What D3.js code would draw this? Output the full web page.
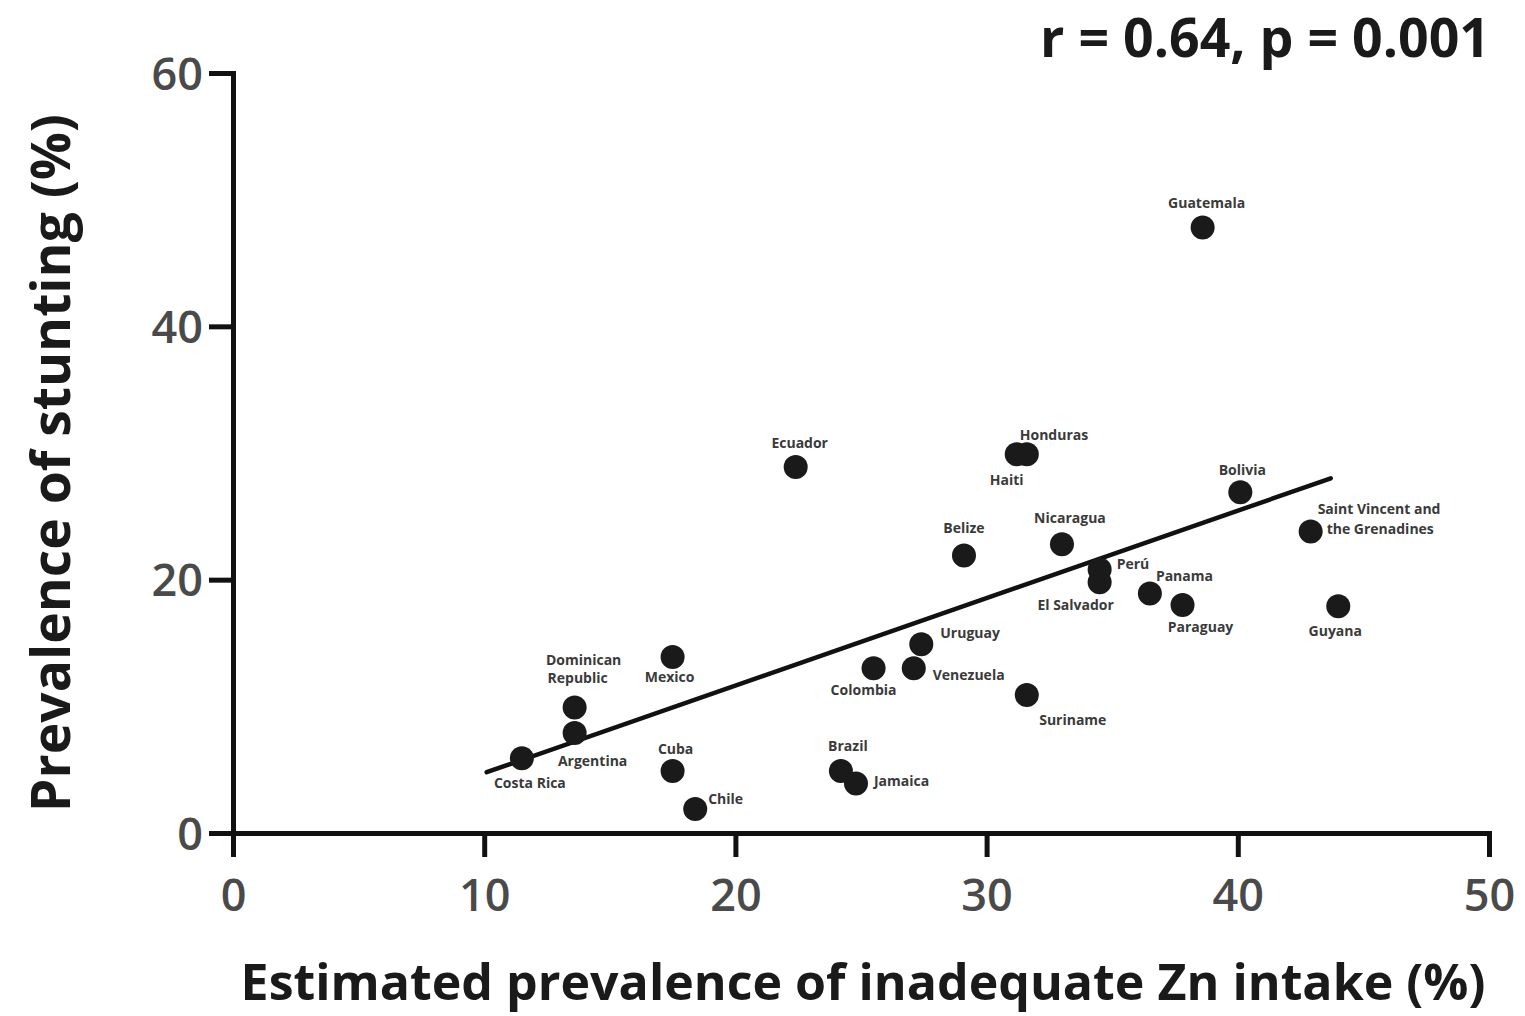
<!DOCTYPE html>
<html><head><meta charset="utf-8">
<script src="https://cdn.jsdelivr.net/npm/d3@7"></script>
<style>
html,body{margin:0;padding:0;background:#fff;}
svg{display:block;font-family:"Open Sans",sans-serif;}
</style></head>
<body><svg id="chart" width="1525" height="1016"></svg>
<script>
// ---- data ----
const countries = ["Costa Rica","Argentina","Dominican Republic","Mexico","Cuba","Chile","Ecuador","Brazil","Jamaica","Colombia","Venezuela","Uruguay","Belize","Haiti","Honduras","Suriname","Nicaragua","Perú","El Salvador","Panama","Paraguay","Guatemala","Bolivia","Saint Vincent and the Grenadines","Guyana"];
const znInadequacy = [11.5,13.6,13.6,17.5,17.5,18.4,22.4,24.2,24.8,25.5,27.1,27.4,29.1,31.2,31.6,31.6,33.0,34.5,34.5,36.5,37.8,38.6,40.1,42.9,44.0];
const stunting =     [5.9, 7.9, 9.9, 13.9,4.9, 1.9, 28.9,4.9, 3.9, 13.0,13.0,14.9,21.9,29.9,29.9,10.9,22.8,20.8,19.8,18.9,18.0,47.8,26.9,23.8,17.9];
const fitX = [10.1, 43.7];
const fitY = [4.8, 28.0];
const xTicks = [0,10,20,30,40,50];
const yTicks = [0,20,40,60];
const statText = "r = 0.64, p = 0.001";
const xTitle = "Estimated prevalence of inadequate Zn intake (%)";
const yTitle = "Prevalence of stunting (%)";

// ---- label layout (offsets from point, px) ----
const labelLayout = {
  "Costa Rica":[{t:"Costa Rica",dx:8,dy:30,a:"middle"}],
  "Argentina":[{t:"Argentina",dx:18,dy:33,a:"middle"}],
  "Dominican Republic":[{t:"Dominican",dx:9,dy:-43,a:"middle"},{t:"Republic",dx:3,dy:-25,a:"middle"}],
  "Mexico":[{t:"Mexico",dx:-3,dy:25,a:"middle"}],
  "Cuba":[{t:"Cuba",dx:3,dy:-17,a:"middle"}],
  "Chile":[{t:"Chile",dx:13,dy:-5,a:"start"}],
  "Ecuador":[{t:"Ecuador",dx:4,dy:-19,a:"middle"}],
  "Brazil":[{t:"Brazil",dx:7,dy:-20,a:"middle"}],
  "Jamaica":[{t:"Jamaica",dx:18,dy:2,a:"start"}],
  "Colombia":[{t:"Colombia",dx:-10,dy:27,a:"middle"}],
  "Venezuela":[{t:"Venezuela",dx:19,dy:12,a:"start"}],
  "Uruguay":[{t:"Uruguay",dx:19,dy:-6,a:"start"}],
  "Belize":[{t:"Belize",dx:0,dy:-23,a:"middle"}],
  "Haiti":[{t:"Haiti",dx:-10,dy:31,a:"middle"}],
  "Honduras":[{t:"Honduras",dx:-7,dy:-14,a:"start"}],
  "Suriname":[{t:"Suriname",dx:46,dy:30,a:"middle"}],
  "Nicaragua":[{t:"Nicaragua",dx:8,dy:-21,a:"middle"}],
  "Perú":[{t:"Perú",dx:17,dy:-1,a:"start"}],
  "El Salvador":[{t:"El Salvador",dx:-24,dy:28,a:"middle"}],
  "Panama":[{t:"Panama",dx:6,dy:-13,a:"start"}],
  "Paraguay":[{t:"Paraguay",dx:18,dy:27,a:"middle"}],
  "Guatemala":[{t:"Guatemala",dx:4,dy:-20,a:"middle"}],
  "Bolivia":[{t:"Bolivia",dx:2,dy:-17,a:"middle"}],
  "Saint Vincent and the Grenadines":[{t:"Saint Vincent and",dx:7,dy:-18,a:"start"},{t:"the Grenadines",dx:16,dy:2,a:"start"}],
  "Guyana":[{t:"Guyana",dx:-3,dy:30,a:"middle"}]
};

const svg = d3.select("#chart");
const x = d3.scaleLinear().domain([0,50]).range([233,1489]);
const y = d3.scaleLinear().domain([0,60]).range([833,73]);

// axes
const xAxis = svg.append("g").attr("transform","translate(0,833)")
  .call(d3.axisBottom(x).tickValues(xTicks).tickSize(24).tickSizeOuter(0).tickPadding(22));
const yAxis = svg.append("g").attr("transform","translate(233,0)")
  .call(d3.axisLeft(y).tickValues(yTicks).tickSize(24).tickSizeOuter(0).tickPadding(6));
[xAxis,yAxis].forEach(g=>{
  g.select(".domain").attr("stroke","#111").attr("stroke-width",5).attr("stroke-linecap","square");
  g.selectAll(".tick line").attr("stroke","#111").attr("stroke-width",5);
  g.selectAll(".tick text").attr("fill","#4a4a4a").attr("font-size",45).attr("font-weight",600)
    .attr("font-family","'Open Sans',sans-serif");
});
xAxis.selectAll(".tick text").attr("dy","0.71em");
yAxis.selectAll(".tick text").attr("dy","0.36em");

// regression line
svg.append("line")
  .attr("x1",x(fitX[0])).attr("y1",y(fitY[0]))
  .attr("x2",x(fitX[1])).attr("y2",y(fitY[1]))
  .attr("stroke","#111").attr("stroke-width",4.5).attr("stroke-linecap","round");

// points
const pts = countries.map((c,i)=>({c, xv:znInadequacy[i], yv:stunting[i]}));
svg.append("g").selectAll("circle").data(pts).join("circle")
  .attr("cx",d=>x(d.xv)).attr("cy",d=>y(d.yv)).attr("r",12).attr("fill","#1a1a1a");

// labels
const lg = svg.append("g").attr("font-size",14).attr("font-weight",700).attr("fill","#3a3a3a");
pts.forEach(d=>{
  (labelLayout[d.c]||[]).forEach(l=>{
    lg.append("text").attr("x",x(d.xv)+l.dx).attr("y",y(d.yv)+l.dy)
      .attr("text-anchor",l.a).text(l.t);
  });
});

// titles
function fit(sel, w){
  const len = sel.node().getComputedTextLength();
  const fs = parseFloat(sel.attr("font-size"));
  sel.attr("font-size", fs*w/len);
}
const st = svg.append("text").attr("x",1490).attr("y",57).attr("text-anchor","end")
  .attr("font-size",52).attr("font-weight",700).attr("fill","#1a1a1a").text(statText);
fit(st, 450);
const xt = svg.append("text").attr("x",(236+1490)/2).attr("y",1000).attr("text-anchor","middle")
  .attr("font-size",50).attr("font-weight",700).attr("fill","#1a1a1a").text(xTitle);
fit(xt, 1245);
const yt = svg.append("text").attr("transform","translate(70,463) rotate(-90)").attr("text-anchor","middle")
  .attr("font-size",50).attr("font-weight",700).attr("fill","#1a1a1a").text(yTitle);
fit(yt, 698);
</script>
</body></html>
